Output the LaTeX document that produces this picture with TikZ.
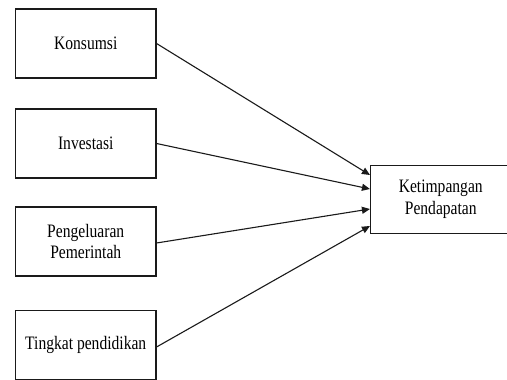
\documentclass[tikz,border=0pt]{standalone}
\usepackage{fontspec}
\setmainfont{Liberation Serif}[FakeStretch=0.82]
\usepackage{xcolor,tikz}
\usetikzlibrary{arrows.meta,positioning,calc}
\definecolor{ink}{HTML}{1A1A1A}
\tikzset{varbox/.style={draw=ink,line width=1.1pt,fill=white,align=center,inner sep=0pt,
  minimum width=140.5pt,minimum height=69pt,
  font=\fontsize{19pt}{21.7pt}\selectfont},
  arrow/.style={-{Triangle[length=8pt,width=7pt]},line width=1.1pt,draw=ink}}

\begin{document}
\begin{tikzpicture}[x=1pt,y=1pt]
\clip (0,0) rectangle (507,380);
\useasboundingbox (0,0) rectangle (507,380);
\fill[white] (0,0) rectangle (507,380);
\node[varbox] (kons) at (85.75,336.5) {Konsumsi};
\node[varbox] (inv) at (85.75,236.5) {Investasi};
\node[varbox] (peng) at (85.75,138.5) {Pengeluaran\\Pemerintah};
\node[varbox] (ting) at (85.75,35) {Tingkat pendidikan};
\node[varbox,minimum height=68pt] (ketim) at (440.75,180.5) {Ketimpangan\\Pendapatan};
\coordinate (k1) at ($(ketim.west)+(0,24.5)$);
\coordinate (k2) at ($(ketim.west)+(0,10.5)$);
\coordinate (k3) at ($(ketim.west)+(0,-9.5)$);
\coordinate (k4) at ($(ketim.west)+(0,-26.5)$);
\draw[arrow] (kons.east) -- (k1);
\draw[arrow] (inv.east) -- (k2);
\draw[arrow] ([yshift=-1.5pt]peng.east) -- (k3);
\draw[arrow] ([yshift=-2pt]ting.east) -- (k4);
\end{tikzpicture}
\end{document}
